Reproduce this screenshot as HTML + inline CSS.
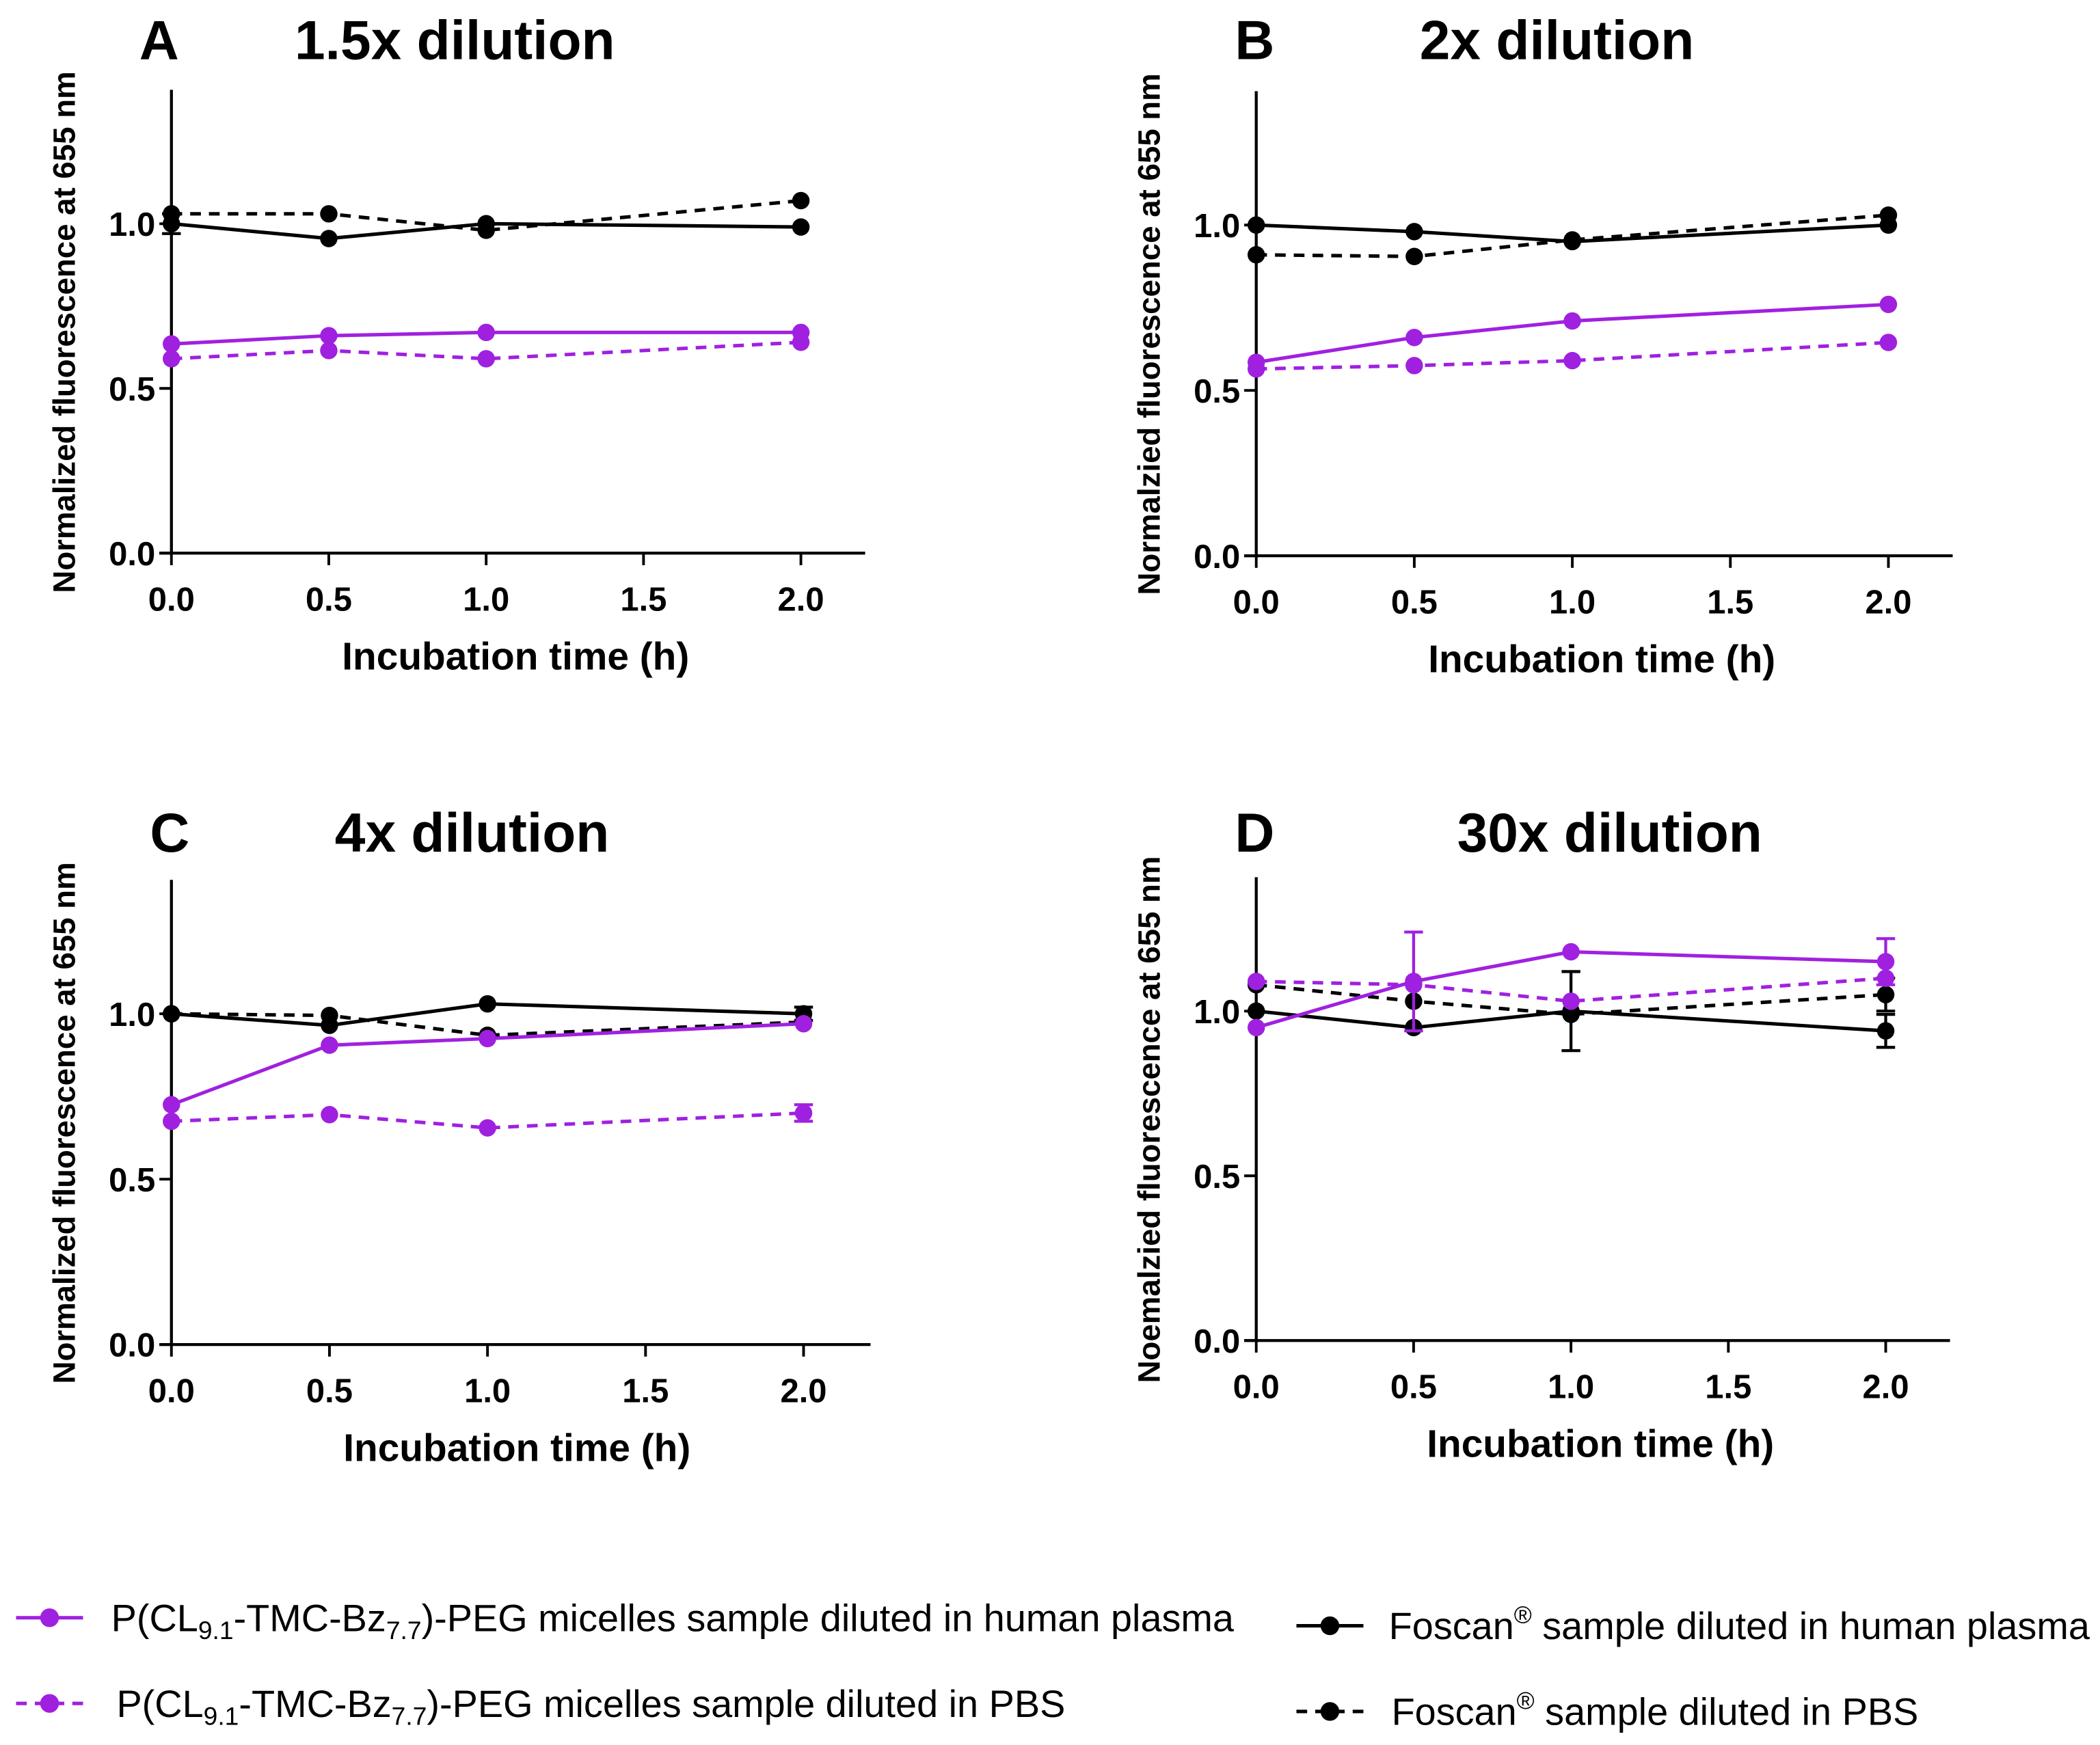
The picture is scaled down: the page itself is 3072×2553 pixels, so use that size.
<!DOCTYPE html>
<html><head><meta charset="utf-8"><style>
html,body{margin:0;padding:0;background:#fff}
svg{display:block}
text{font-family:"Liberation Sans",sans-serif}
</style></head><body>
<svg id="fig" width="3072" height="2553" viewBox="0 0 1568 1303" xmlns="http://www.w3.org/2000/svg"></svg>
<script>
const times = [0, 0.5, 1.0, 2.0];
const xTicks = [0, 0.5, 1.0, 1.5, 2.0];
const xTickLabels = ["0.0","0.5","1.0","1.5","2.0"];
const yTicks = [0, 0.5, 1.0];
const yTickLabels = ["0.0","0.5","1.0"];
const panelLetters = ["A","B","C","D"];
const panelTitles = ["1.5x dilution","2x dilution","4x dilution","30x dilution"];
const yTitles = ["Normalized fluorescence at 655 nm","Normalzied fluorescence at 655 nm","Normalized fluorescence at 655 nm","Noemalzied fluorescence at 655 nm"];
// series values per panel
const micPlasma = [[0.635,0.66,0.67,0.67],[0.585,0.66,0.71,0.76],[0.725,0.905,0.925,0.97],[0.95,1.09,1.18,1.15]];
const micPBS = [[0.59,0.615,0.59,0.64],[0.565,0.575,0.59,0.645],[0.675,0.695,0.655,0.70],[1.09,1.08,1.03,1.10]];
const fosPlasma = [[1.0,0.955,1.0,0.99],[1.0,0.98,0.95,1.0],[1.0,0.965,1.03,1.0],[1.0,0.95,1.0,0.94]];
const fosPBS = [[1.03,1.03,0.98,1.07],[0.91,0.905,0.955,1.03],[1.0,0.995,0.935,0.975],[1.08,1.03,0.99,1.05]];
const micPlasmaErr = [[0,0,0,0],[0,0,0,0],[0,0,0,0],[0,0.15,0,0.07]];
const micPBSErr = [[0,0,0,0],[0,0,0,0],[0,0,0,0.025],[0,0,0,0]];
const fosPlasmaErr = [[0.03,0,0,0],[0,0,0,0],[0,0,0,0.02],[0,0,0.12,0.05]];
const fosPBSErr = [[0,0,0,0],[0,0,0,0],[0,0,0,0],[0,0,0,0.05]];

const layout = [
 {x0:128,x2:598,y0:413,y1:167,top:67,end:646,lx:104,tx:220,ty:44},
 {x0:938,x2:1410,y0:415,y1:168,top:68,end:1458,lx:922,tx:1060,ty:44},
 {x0:128,x2:600,y0:1004,y1:757,top:657,end:650,lx:112,tx:250,ty:636},
 {x0:938,x2:1408,y0:1001,y1:755,top:655,end:1456,lx:922,tx:1088,ty:636}
];
const PURPLE="#a020e0";
const svg=document.getElementById('fig');
const NS="http://www.w3.org/2000/svg";
function mk(tag,attrs,parent){const e=document.createElementNS(NS,tag);for(const k in attrs)e.setAttribute(k,attrs[k]);(parent||svg).appendChild(e);return e;}
function txt(s,attrs,parent){const e=mk('text',attrs,parent);e.textContent=s;return e;}

layout.forEach((L,p)=>{
  const g=mk('g',{});
  
  
  const X=v=>L.x0+(L.x2-L.x0)*v/2;
  const Y=v=>L.y0-(L.y0-L.y1)*v;
  const axes=mk('g',{},g);
  
  
  mk('line',{x1:L.x0,y1:L.top,x2:L.x0,y2:L.y0+1,stroke:'#000','stroke-width':2.2},axes);
  mk('line',{x1:L.x0-9,y1:L.y0,x2:L.end,y2:L.y0,stroke:'#000','stroke-width':2.2},axes);
  xTicks.forEach((t,i)=>{
    mk('line',{x1:X(t),y1:L.y0,x2:X(t),y2:L.y0+9,stroke:'#000','stroke-width':2},axes);
    const lt=txt(xTickLabels[i],{x:X(t),y:L.y0+43,'text-anchor':'middle','font-size':25,'font-weight':'bold'},axes);
    
    
  });
  yTicks.forEach((t,i)=>{
    mk('line',{x1:L.x0-9,y1:Y(t),x2:L.x0,y2:Y(t),stroke:'#000','stroke-width':2},axes);
    const lt=txt(yTickLabels[i],{x:L.x0-12,y:Y(t)+9,'text-anchor':'end','font-size':25,'font-weight':'bold'},axes);
    
    
  });
  const xt=txt('Incubation time (h)',{x:(L.x0+L.x2)/2+22,y:L.y0+87,'text-anchor':'middle','font-size':29,'font-weight':'bold'},g);
  
  
  const yc=(L.top+L.y0)/2+8;
  const yt=txt(yTitles[p],{x:0,y:0,'text-anchor':'middle','font-size':23.3,'font-weight':'bold',transform:`translate(${L.x0-72},${yc}) rotate(-90)`},g);
  
  
  const le=txt(panelLetters[p],{x:L.lx,y:L.ty,'font-size':41,'font-weight':'bold'},g);
  
  
  const ti=txt(panelTitles[p],{x:L.tx,y:L.ty,'font-size':41,'font-weight':'bold'},g);
  
  

  const series=[
    {v:fosPBS[p],e:fosPBSErr[p],c:'#000',d:'8,6',n:'foscan-pbs'},
    {v:fosPlasma[p],e:fosPlasmaErr[p],c:'#000',d:'',n:'foscan-plasma'},
    {v:micPBS[p],e:micPBSErr[p],c:PURPLE,d:'8,6',n:'micelles-pbs'},
    {v:micPlasma[p],e:micPlasmaErr[p],c:PURPLE,d:'',n:'micelles-plasma'}
  ];
  series.forEach(s=>{
    const sg=mk('g',{},g);
    
    
    const pts=times.map((t,i)=>X(t)+','+Y(s.v[i])).join(' ');
    const attrs={points:pts,fill:'none',stroke:s.c,'stroke-width':2.6};
    if(s.d)attrs['stroke-dasharray']=s.d;
    mk('polyline',attrs,sg);
    times.forEach((t,i)=>{
      if(s.e[i]>0){
        const cx=X(t),a=Y(s.v[i]+s.e[i]),b=Y(s.v[i]-s.e[i]);
        mk('line',{x1:cx,y1:a,x2:cx,y2:b,stroke:s.c,'stroke-width':2.2},sg);
        mk('line',{x1:cx-7,y1:a,x2:cx+7,y2:a,stroke:s.c,'stroke-width':2.2},sg);
        mk('line',{x1:cx-7,y1:b,x2:cx+7,y2:b,stroke:s.c,'stroke-width':2.2},sg);
      }
      const c=mk('circle',{cx:X(t),cy:Y(s.v[i]),r:6.5,fill:s.c},sg);
      
      
    });
  });
});

// legend
const legendItems=[
  {x:12,y:1208,c:PURPLE,d:'',tx:83,main:'micelles',tail:'-PEG micelles sample diluted in human plasma',n:'legend-micelles-plasma'},
  {x:12,y:1272,c:PURPLE,d:'8,6',tx:87,main:'micelles',tail:'-PEG micelles sample diluted in PBS',n:'legend-micelles-pbs'},
  {x:968,y:1214,c:'#000',d:'',tx:1037,main:'foscan',tail:' sample diluted in human plasma',n:'legend-foscan-plasma'},
  {x:968,y:1278,c:'#000',d:'8,6',tx:1039,main:'foscan',tail:' sample diluted in PBS',n:'legend-foscan-pbs'}
];
legendItems.forEach(L=>{
  const g=mk('g',{});
  
  
  const a={x1:L.x,y1:L.y,x2:L.x+50,y2:L.y,stroke:L.c,'stroke-width':2.6};
  if(L.d)a['stroke-dasharray']=L.d;
  mk('line',a,g);
  mk('circle',{cx:L.x+25,cy:L.y,r:7,fill:L.c},g);
  const t=mk('text',{x:L.tx,y:L.y+10,'font-size':28.5},g);
  if(L.main==='micelles'){
    t.innerHTML='P(CL<tspan font-size="19" dy="6">9.1</tspan><tspan dy="-6">-TMC-Bz</tspan><tspan font-size="19" dy="6">7.7</tspan><tspan dy="-6">)'+L.tail+'</tspan>';
  } else {
    t.innerHTML='Foscan<tspan font-size="18" dy="-12">®</tspan><tspan dy="12">'+L.tail+'</tspan>';
  }
});
</script>
</body></html>
